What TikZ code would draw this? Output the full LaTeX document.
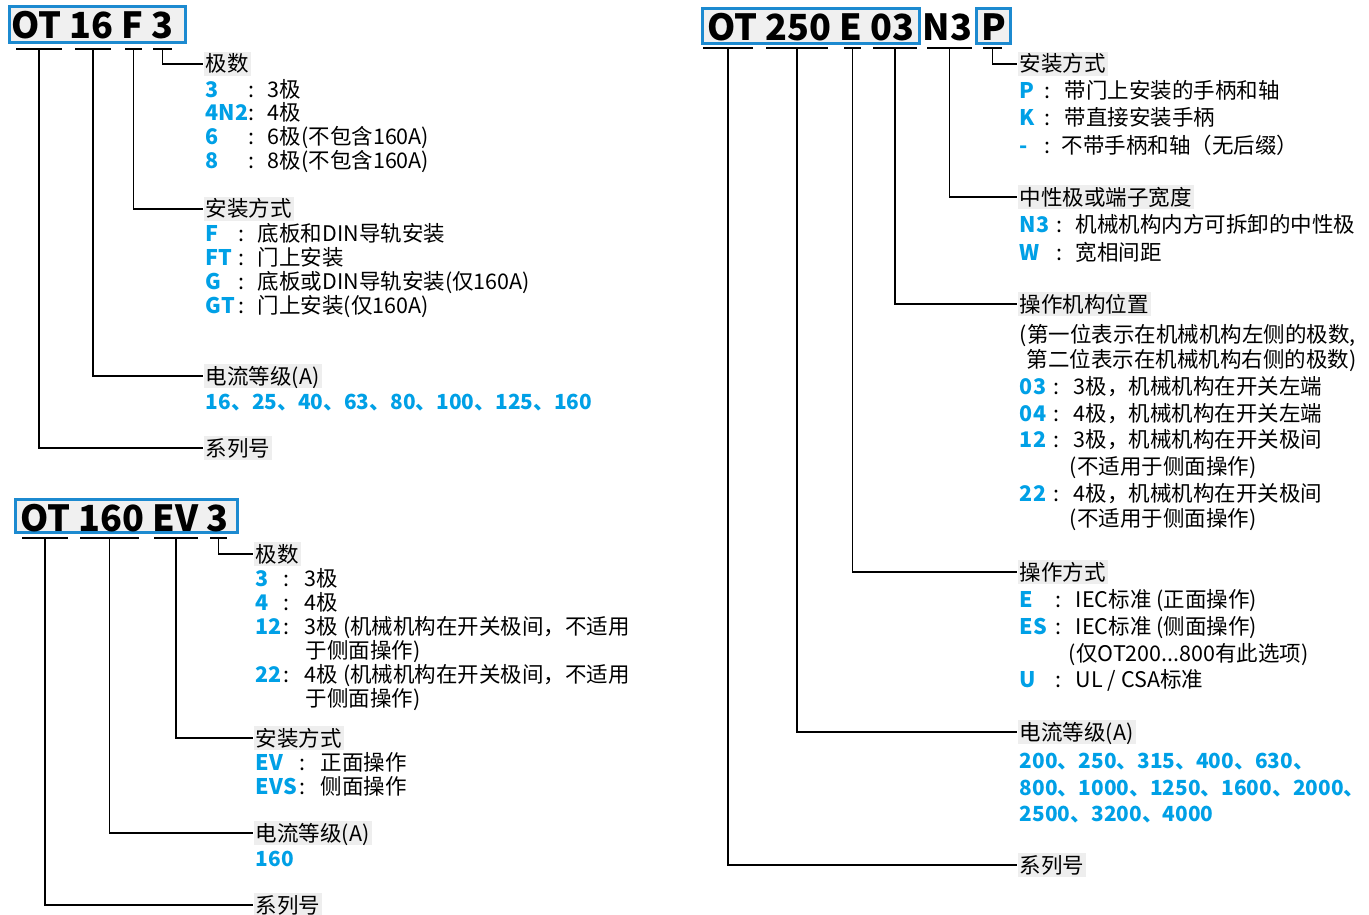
\documentclass[tikz,border=0pt]{standalone}
\usepackage{fontspec}
\setmainfont{Noto Sans CJK SC}
\definecolor{codeblue}{RGB}{0,160,230}
\definecolor{frameblue}{RGB}{28,138,208}
\definecolor{taggray}{RGB}{238,238,238}
\definecolor{titlegray}{RGB}{240,240,240}
\newcommand\titlefont{\fontsize{36}{36}\selectfont\bfseries}
\newcommand\bodyfont{\fontsize{21.5}{24}\selectfont}
\newcommand\valfont{\fontsize{20.8}{24}\selectfont\bfseries}
% code : text, with fixed column widths
\newcommand\optrow[4]{\makebox[#1][l]{\bfseries\color{codeblue}#3}\makebox[#2][l]{:}#4}

\begin{document}
\begin{tikzpicture}[x=1pt,y=-1pt,line width=1.8pt,
  titlebox/.style={draw=frameblue,line width=3pt,fill=titlegray,inner sep=0pt,
    font=\titlefont,text depth=0pt},
  tag/.style={fill=taggray,inner xsep=2pt,inner ysep=2pt,text height=18pt,
    text depth=2pt,anchor=west,font=\bodyfont},
  opt/.style={inner sep=0pt,text height=18pt,text depth=2pt,anchor=west,font=\bodyfont},
  val/.style={opt,font=\valfont,text=codeblue}]
\useasboundingbox (0,0) rectangle (1369,915);
\fill[white] (0,0) rectangle (1369,915);
% ---------- OT 16 F 3 ----------
\node[titlebox,minimum width=176pt,minimum height=36pt,text height=29pt] (t16)
  at (97.5,24.5) {OT 16 F 3\kern10pt};
\foreach \a/\b/\n in {16/62/p1a,75/111/p1b,125/142/p1c,153/172/p1d}
  {\draw (\a,49) -- (\b,49); \coordinate (\n) at ({(\a+\b)/2},49);}
% 极数
\node[tag] (p1pole) at (203,64) {极数};
\node[opt] (p1pole1) at (205,90) {\optrow{43pt}{19pt}{3}{3极}};
\node[opt] (p1pole2) at (205,113) {\optrow{43pt}{19pt}{4N2}{4极}};
\node[opt] (p1pole3) at (205,137) {\optrow{43pt}{19pt}{6}{6极(不包含160A)}};
\node[opt] (p1pole4) at (205,161) {\optrow{43pt}{19pt}{8}{8极(不包含160A)}};
% 安装方式
\node[tag] (p1mount) at (203,209) {安装方式};
\node[opt] (p1mount1) at (205,233) {\optrow{33pt}{19pt}{F}{底板和DIN导轨安装}};
\node[opt] (p1mount2) at (205,257) {\optrow{33pt}{19pt}{FT}{门上安装}};
\node[opt] (p1mount3) at (205,281) {\optrow{33pt}{19pt}{G}{底板或DIN导轨安装(仅160A)}};
\node[opt] (p1mount4) at (205,305) {\optrow{33pt}{19pt}{GT}{门上安装(仅160A)}};
% 电流等级 / 系列号
\node[tag] (p1amp) at (203,376) {电流等级(A)};
\node[val] (p1amp1) at (205,401) {16、25、40、63、80、100、125、160};
\node[tag] (p1ser) at (203,448) {系列号};
\draw (p1d) |- (p1pole.west);
\draw (p1c) |- (p1mount.west);
\draw (p1b) |- (p1amp.west);
\draw (p1a) |- (p1ser.west);
% ---------- OT 160 EV 3 ----------
\node[titlebox,minimum width=222pt,minimum height=33pt,text height=30pt] (t160)
  at (126.5,516) {OT 160 EV 3\kern4pt};
\foreach \a/\b/\n in {22/68/p2a,80/139/p2b,154/198/p2c,210/227/p2d}
  {\draw (\a,538) -- (\b,538); \coordinate (\n) at ({(\a+\b)/2},538);}
% 极数
\node[tag] (p2pole) at (253,554) {极数};
\node[opt] (p2pole1) at (255,578) {\optrow{28pt}{21pt}{3}{3极}};
\node[opt] (p2pole2) at (255,602) {\optrow{28pt}{21pt}{4}{4极}};
\node[opt] (p2pole3) at (255,626) {\optrow{28pt}{21pt}{12}{3极 (机械机构在开关极间，不适用}};
\node[opt] (p2pole3b) at (305,650) {于侧面操作)};
\node[opt] (p2pole4) at (255,674) {\optrow{28pt}{21pt}{22}{4极 (机械机构在开关极间，不适用}};
\node[opt] (p2pole4b) at (305,698) {于侧面操作)};
% 安装方式
\node[tag] (p2mount) at (253,738) {安装方式};
\node[opt] (p2mount1) at (255,762) {\optrow{44pt}{21pt}{EV}{正面操作}};
\node[opt] (p2mount2) at (255,786) {\optrow{44pt}{21pt}{EVS}{侧面操作}};
% 电流等级 / 系列号
\node[tag] (p2amp) at (253,833) {电流等级(A)};
\node[val] (p2amp1) at (255,858) {160};
\node[tag] (p2ser) at (253,905) {系列号};
\draw (p2d) |- (p2pole.west);
\draw (p2c) |- (p2mount.west);
\draw (p2b) |- (p2amp.west);
\draw (p2a) |- (p2ser.west);
% ---------- OT 250 E 03 N3 P ----------
\node[titlebox,minimum width=217pt,minimum height=35pt,text height=30pt] (t250)
  at (811,26) {OT 250 E 03};
\node[font=\titlefont,inner sep=0pt,anchor=base] (tn3) at (947.5,41) {N3};
\node[titlebox,minimum width=34pt,minimum height=35pt,text height=30pt] (tp)
  at (993.5,26) {P};
\foreach \a/\b/\n in {703/753/p3a,766/828/p3b,844/861/p3c,873/917/p3d,927/972/p3e,983/1002/p3f}
  {\draw (\a,48) -- (\b,48); \coordinate (\n) at ({(\a+\b)/2},48);}
% 安装方式
\node[tag] (p3mount) at (1017,64) {安装方式};
\node[opt] (p3mount1) at (1019,91) {\optrow{25pt}{20pt}{P}{带门上安装的手柄和轴}};
\node[opt] (p3mount2) at (1019,118) {\optrow{25pt}{20pt}{K}{带直接安装手柄}};
\node[opt] (p3mount3) at (1019,146) {\optrow{25pt}{17pt}{-}{不带手柄和轴（无后缀）}};
% 中性极
\node[tag] (p3neu) at (1017,197) {中性极或端子宽度};
\node[opt] (p3neu1) at (1019,225) {\optrow{37pt}{19pt}{N3}{机械机构内方可拆卸的中性极}};
\node[opt] (p3neu2) at (1019,252) {\optrow{37pt}{19pt}{W}{宽相间距}};
% 操作机构位置
\node[tag] (p3pos) at (1017,304) {操作机构位置};
\node[opt] (p3posa) at (1019,334) {(第一位表示在机械机构左侧的极数,};
\node[opt] (p3posb) at (1026,359) {第二位表示在机械机构右侧的极数)};
\node[opt] (p3pos1) at (1019,386) {\optrow{34pt}{20pt}{03}{3极，机械机构在开关左端}};
\node[opt] (p3pos2) at (1019,413) {\optrow{34pt}{20pt}{04}{4极，机械机构在开关左端}};
\node[opt] (p3pos3) at (1019,439) {\optrow{34pt}{20pt}{12}{3极，机械机构在开关极间}};
\node[opt] (p3pos3b) at (1069,466) {(不适用于侧面操作)};
\node[opt] (p3pos4) at (1019,493) {\optrow{34pt}{20pt}{22}{4极，机械机构在开关极间}};
\node[opt] (p3pos4b) at (1069,518) {(不适用于侧面操作)};
% 操作方式
\node[tag] (p3op) at (1017,572) {操作方式};
\node[opt] (p3op1) at (1019,599) {\optrow{36pt}{20pt}{E}{IEC标准 (正面操作)}};
\node[opt] (p3op2) at (1019,626) {\optrow{36pt}{20pt}{ES}{IEC标准 (侧面操作)}};
\node[opt] (p3op2b) at (1068,653) {(仅OT200...800有此选项)};
\node[opt] (p3op3) at (1019,679) {\optrow{36pt}{20pt}{U}{UL / CSA标准}};
% 电流等级 / 系列号
\node[tag] (p3amp) at (1017,732) {电流等级(A)};
\node[val] (p3amp1) at (1019,760) {200、250、315、400、630、};
\node[val] (p3amp2) at (1019,787) {800、1000、1250、1600、2000、};
\node[val] (p3amp3) at (1019,813) {2500、3200、4000};
\node[tag] (p3ser) at (1017,865) {系列号};
\draw (p3f) |- (p3mount.west);
\draw (p3e) |- (p3neu.west);
\draw (p3d) |- (p3pos.west);
\draw (p3c) |- (p3op.west);
\draw (p3b) |- (p3amp.west);
\draw (p3a) |- (p3ser.west);
\end{tikzpicture}
\end{document}
